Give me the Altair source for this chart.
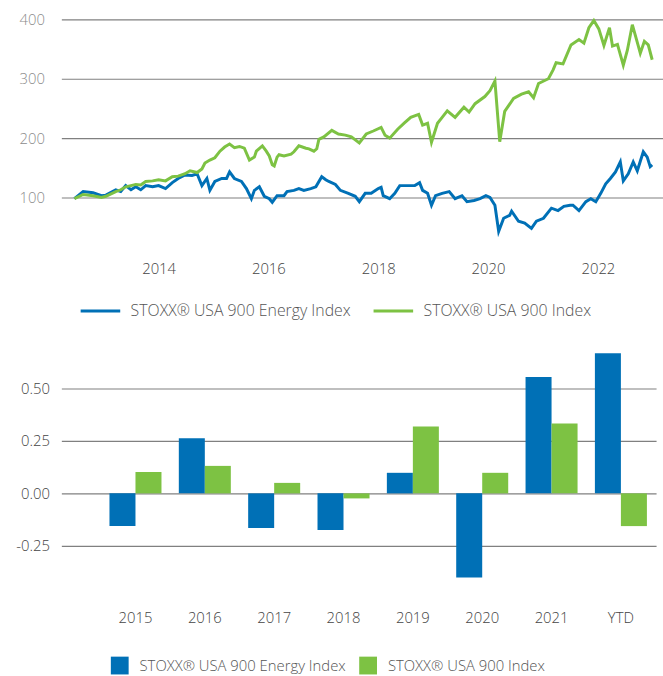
import altair as alt
import pandas as pd

BLUE = "#0070B6"
GREEN = "#7DC243"
S_ENERGY = "STOXX® USA 900 Energy Index"
S_MARKET = "STOXX® USA 900 Index"

energy_dates = [
    "2012-06-20", "2012-08-17", "2012-10-22", "2012-12-17", "2013-01-15", "2013-03-22",
    "2013-04-24", "2013-05-27", "2013-07-01", "2013-08-02", "2013-09-04", "2013-10-07",
    "2013-11-22", "2014-01-01", "2014-02-16", "2014-04-02", "2014-05-11", "2014-06-26",
    "2014-08-11", "2014-09-14", "2014-10-16", "2014-11-18", "2014-12-08", "2015-01-10",
    "2015-02-25", "2015-03-29", "2015-04-18", "2015-05-20", "2015-07-06", "2015-08-08",
    "2015-09-10", "2015-09-30", "2015-11-02", "2015-12-05", "2016-01-07", "2016-01-27",
    "2016-02-28", "2016-04-14", "2016-05-04", "2016-06-19", "2016-07-22", "2016-08-24",
    "2016-10-09", "2016-11-12", "2016-12-21", "2017-01-17", "2017-02-06", "2017-03-22",
    "2017-04-24", "2017-06-16", "2017-08-01", "2017-08-28", "2017-10-06", "2017-11-15",
    "2018-01-01", "2018-01-20", "2018-02-03", "2018-03-18", "2018-04-21", "2018-05-24",
    "2018-07-15", "2018-09-01", "2018-10-03", "2018-10-23", "2018-11-25", "2018-12-21",
    "2019-01-17", "2019-03-02", "2019-04-18", "2019-05-27", "2019-07-12", "2019-08-14",
    "2019-09-30", "2019-11-09", "2019-12-18", "2020-01-14", "2020-02-16", "2020-03-12",
    "2020-04-14", "2020-05-24", "2020-06-06", "2020-07-22", "2020-09-01", "2020-10-16",
    "2020-11-18", "2021-01-04", "2021-02-26", "2021-04-11", "2021-05-20", "2021-06-30",
    "2021-07-19", "2021-08-28", "2021-10-13", "2021-11-15", "2021-12-18", "2022-01-20",
    "2022-02-22", "2022-03-25", "2022-04-28", "2022-05-30", "2022-06-19", "2022-07-22",
    "2022-08-24", "2022-09-20", "2022-10-30", "2022-11-25", "2022-12-15", "2022-12-28",
]
energy_values = [
    98, 110, 108, 103, 104, 113,
    110, 120, 113, 118, 113, 120,
    118, 120, 115, 125, 132, 138,
    137, 140, 120, 132, 112, 127,
    132, 132, 143, 132, 127, 115,
    98, 112, 118, 102, 98, 92,
    103, 103, 110, 112, 115, 112,
    115, 118, 135, 130, 127, 122,
    112, 107, 102, 93, 107, 107,
    115, 117, 103, 98, 107, 120,
    120, 120, 125, 112, 107, 87,
    103, 107, 110, 98, 103, 93,
    95, 98, 103, 100, 87, 43,
    65, 70, 77, 60, 57, 48,
    60, 65, 82, 78, 85, 87,
    87, 78, 93, 98, 93, 107,
    123, 132, 143, 160, 128, 140,
    160, 145, 177, 168, 152, 155,
]

market_dates = [
    "2012-06-20", "2012-08-17", "2012-10-22", "2012-12-17", "2013-01-15", "2013-03-22",
    "2013-04-24", "2013-05-27", "2013-07-01", "2013-08-02", "2013-09-04", "2013-10-07",
    "2013-11-22", "2014-01-01", "2014-02-16", "2014-04-02", "2014-05-11", "2014-06-26",
    "2014-07-29", "2014-09-14", "2014-10-16", "2014-11-05", "2014-12-08", "2015-01-10",
    "2015-02-13", "2015-03-16", "2015-04-18", "2015-05-20", "2015-06-23", "2015-07-25",
    "2015-08-28", "2015-09-30", "2015-10-13", "2015-11-22", "2015-12-18", "2016-01-07",
    "2016-01-27", "2016-02-09", "2016-02-28", "2016-03-12", "2016-04-14", "2016-05-31",
    "2016-06-19", "2016-07-22", "2016-09-07", "2016-09-27", "2016-10-30", "2016-11-18",
    "2016-12-02", "2017-01-04", "2017-02-26", "2017-04-11", "2017-05-27", "2017-07-06",
    "2017-08-28", "2017-10-13", "2017-11-29", "2018-01-20", "2018-02-15", "2018-03-18",
    "2018-05-10", "2018-06-26", "2018-08-05", "2018-09-27", "2018-10-23", "2018-11-25",
    "2018-12-21", "2019-01-30", "2019-03-02", "2019-04-05", "2019-05-27", "2019-07-25",
    "2019-08-28", "2019-10-07", "2019-12-11", "2020-01-14", "2020-02-16", "2020-03-19",
    "2020-04-21", "2020-06-19", "2020-08-11", "2020-09-27", "2020-10-30", "2020-12-02",
    "2021-02-06", "2021-03-09", "2021-03-29", "2021-05-14", "2021-07-06", "2021-08-28",
    "2021-09-30", "2021-11-02", "2021-12-05", "2022-01-07", "2022-02-10", "2022-03-19",
    "2022-04-08", "2022-05-11", "2022-06-19", "2022-07-16", "2022-08-18", "2022-09-27",
    "2022-10-10", "2022-11-06", "2022-12-02", "2022-12-28",
]
market_values = [
    98, 105, 103, 100, 102, 110,
    113, 118, 120, 122, 121, 127,
    128, 130, 128, 135, 136, 140,
    145, 142, 148, 158, 163, 167,
    178, 185, 190, 184, 186, 183,
    163, 168, 178, 187, 178, 170,
    155, 153, 168, 172, 170, 173,
    177, 187, 183, 182, 178, 182,
    198, 202, 213, 207, 205, 202,
    192, 207, 212, 218, 205, 200,
    215, 226, 235, 240, 222, 225,
    193, 225, 235, 246, 235, 252,
    244, 258, 270, 280, 296, 194,
    245, 267, 274, 278, 268, 292,
    300, 315, 327, 325, 357, 366,
    360, 386, 398, 384, 356, 386,
    355, 358, 323, 348, 391, 355,
    343, 363, 357, 332,
]

years = ["2015", "2016", "2017", "2018", "2019", "2020", "2021", "YTD"]
energy_returns = [-0.156, 0.263, -0.165, -0.175, 0.098, -0.401, 0.555, 0.668]
market_returns = [0.102, 0.131, 0.050, -0.024, 0.319, 0.098, 0.333, -0.156]

series = [S_ENERGY, S_MARKET]
colors = [BLUE, GREEN]

line_df = pd.concat([
    pd.DataFrame({"date": energy_dates, "value": energy_values, "series": S_ENERGY}),
    pd.DataFrame({"date": market_dates, "value": market_values, "series": S_MARKET}),
])
bar_df = pd.concat([
    pd.DataFrame({"year": years, "ret": energy_returns, "series": S_ENERGY}),
    pd.DataFrame({"year": years, "ret": market_returns, "series": S_MARKET}),
])

top = alt.Chart(line_df).mark_line(strokeWidth=3).encode(
    x=alt.X("date:T",
            scale=alt.Scale(domain=[alt.DateTime(year=2012, month=3, date=25),
                                    alt.DateTime(year=2023, month=3, date=10)], nice=False),
            axis=alt.Axis(values=[alt.DateTime(year=y, month=1, date=1) for y in [2014, 2016, 2018, 2020, 2022]],
                          format="%Y", title=None, grid=False, domain=False, ticks=False,
                          labelPadding=5, labelColor="#444444")),
    y=alt.Y("value:Q", scale=alt.Scale(domain=[0, 400], nice=False),
            axis=alt.Axis(values=[100, 200, 300, 400], title=None, domain=False, ticks=False,
                          labelPadding=17, minExtent=55, maxExtent=55, labelColor="#8c8c8c")),
    color=alt.Color("series:N", sort=series,
                    scale=alt.Scale(domain=series, range=colors),
                    legend=alt.Legend(orient="none", legendX=18, legendY=273, direction="horizontal",
                                      title=None, symbolType="stroke", symbolSize=1600,
                                      symbolStrokeWidth=3, labelOffset=9, columnPadding=16,
                                      labelFontSize=16)),
    order=alt.Order("date:T"),
).properties(width=608, height=240)

bottom = alt.Chart(bar_df).mark_bar().encode(
    x=alt.X("year:N",
            scale=alt.Scale(domain=years, paddingInner=0.25, paddingOuter=0.413, align=0.84),
            axis=alt.Axis(title=None, labelAngle=0, domain=False, ticks=False, grid=False,
                          labelPadding=13, labelColor="#444444")),
    xOffset=alt.XOffset("series:N", sort=series, scale=alt.Scale(domain=series, paddingInner=0, paddingOuter=0)),
    y=alt.Y("ret:Q", scale=alt.Scale(domain=[-0.5, 0.75], nice=False),
            axis=alt.Axis(values=[-0.25, 0, 0.25, 0.5], title=None, domain=False, ticks=False,
                          labelExpr="datum.value < 0 ? '-' + format(-datum.value, '.2f') : format(datum.value, '.2f')",
                          labelPadding=12, minExtent=62, maxExtent=62, labelColor="#444444")),
    color=alt.Color("series:N", sort=series,
                    scale=alt.Scale(domain=series, range=colors),
                    legend=alt.Legend(orient="none", legendX=50, legendY=324, direction="horizontal",
                                      title=None, symbolType="square", symbolSize=324,
                                      symbolStrokeWidth=0, labelOffset=11, columnPadding=13,
                                      labelFontSize=15)),
).properties(width=601, height=265)

chart = alt.vconcat(top, bottom, spacing=17).resolve_scale(
    color="independent", x="independent", y="independent"
).resolve_legend(color="independent").properties(
    padding={"top": 9, "left": 0, "right": 0, "bottom": 0}
).configure_view(stroke=None).configure_axis(
    labelFont="Open Sans", labelFontSize=15, labelFontWeight=300, gridColor="#808080", gridWidth=1.2
).configure_legend(
    labelFont="Open Sans", labelFontWeight=300, labelColor="#555555",
    padding=0, labelLimit=400
)

chart.save("out.html", embed_options={"renderer": "svg", "actions": False})
